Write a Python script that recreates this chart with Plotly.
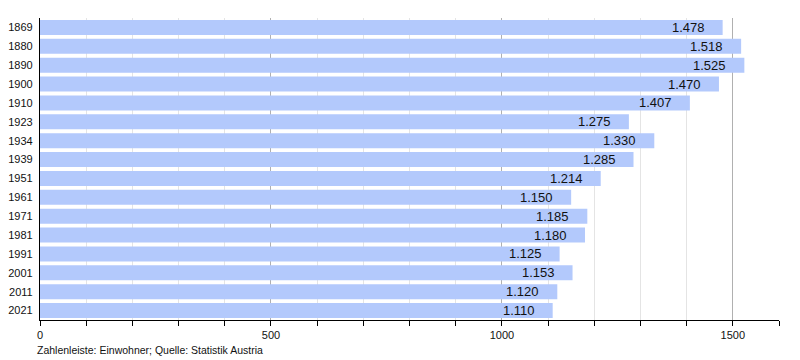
import plotly.graph_objects as go

years = ["1869", "1880", "1890", "1900", "1910", "1923", "1934", "1939",
         "1951", "1961", "1971", "1981", "1991", "2001", "2011", "2021"]
population = [1478, 1518, 1525, 1470, 1407, 1275, 1330, 1285,
              1214, 1150, 1185, 1180, 1125, 1153, 1120, 1110]
x_ticks = [0, 500, 1000, 1500]
source_note = "Zahlenleiste: Einwohner; Quelle: Statistik Austria"

labels = [f"{v:,}".replace(",", ".") for v in population]

fig = go.Figure(go.Bar(
    x=population, y=years, orientation="h",
    marker=dict(color="#b3c9fc", line=dict(width=0)),
    hoverinfo="x+y",
))

# category axis: annotation y given as the category index
annotations = [dict(
    text=lab, x=v, y=i, xref="x", yref="y",
    xanchor="right", yanchor="middle", xshift=-16,
    showarrow=False, font=dict(size=13, color="#111111"),
) for i, (v, lab) in enumerate(zip(population, labels))]

annotations.append(dict(
    text=source_note, xref="paper", yref="paper",
    x=-0.007, y=-0.099, xanchor="left", yanchor="middle",
    showarrow=False, font=dict(size=10.5, color="#111111"),
))

fig.update_layout(
    width=800, height=360,
    margin=dict(l=40, r=21, t=18, b=40, autoexpand=False),
    plot_bgcolor="white", paper_bgcolor="white",
    bargap=0.2, showlegend=False,
    font=dict(family="Liberation Sans", size=11, color="#111111"),
    xaxis=dict(
        range=[0, 1600], tickvals=x_ticks, ticktext=[str(t) for t in x_ticks],
        showgrid=True, gridcolor="#b0b0b0", gridwidth=1,
        showline=True, linecolor="black", linewidth=1.2,
        ticks="outside", ticklen=5, tickcolor="black",
        minor=dict(dtick=100, tick0=0, ticks="outside", ticklen=5,
                   tickcolor="black", showgrid=True, gridcolor="#e4e4e4"),
        zeroline=False, fixedrange=True, automargin=False,
        tickfont=dict(size=11, color="#111111"),
    ),
    yaxis=dict(
        type="category", categoryorder="array", categoryarray=years,
        range=[len(years) - 0.5, -0.5],
        showline=True, linecolor="black", linewidth=1.2,
        ticks="", ticklabelstandoff=4, showgrid=False, automargin=False,
        tickfont=dict(size=11, color="#111111"),
    ),
    annotations=annotations,
)

fig.write_html("out.html", config={"displayModeBar": False},
               post_script="document.body.style.margin='0px';document.body.style.overflow='hidden';")
